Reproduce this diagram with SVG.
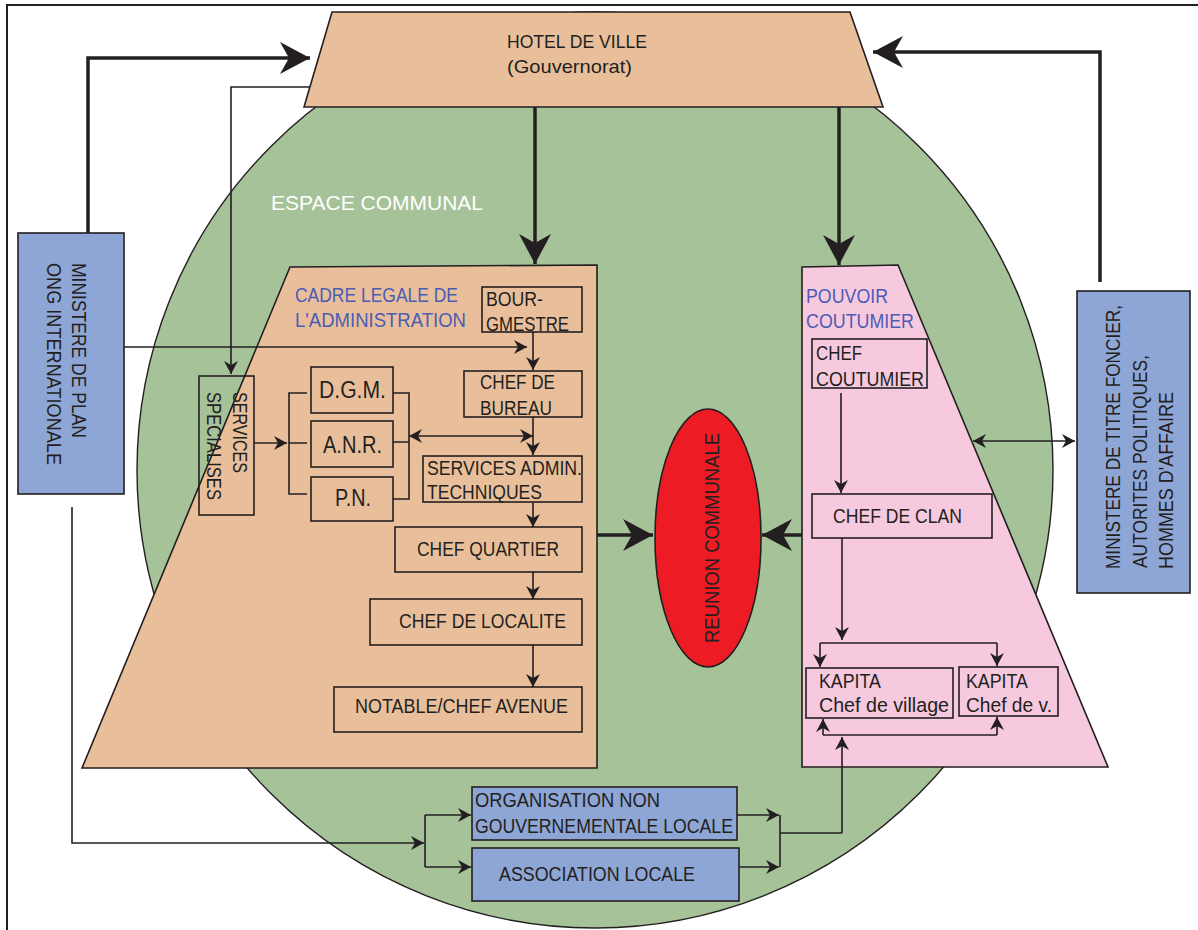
<svg xmlns="http://www.w3.org/2000/svg" width="1198" height="930" viewBox="0 0 1198 930">
<style>
text{font-family:"Liberation Sans",Arial,sans-serif;font-size:20px;fill:#231f20;}
.ttl{fill:#4c5cb5;}
.box{fill:none;stroke:#231f20;stroke-width:1.6;}
.bbox{fill:#8ea6d6;stroke:#231f20;stroke-width:1.6;}
.c{fill:none;stroke:#231f20;stroke-width:1.6;}
.a{marker-end:url(#ah);}
.da{marker-start:url(#ah);marker-end:url(#ah);}
.k{fill:none;stroke:#231f20;stroke-width:3.5;marker-end:url(#ahb);}
</style>
<defs>
<marker id="ah" viewBox="-15 -9 17 18" markerWidth="17" markerHeight="18" refX="0" refY="0" orient="auto-start-reverse" markerUnits="userSpaceOnUse">
<path d="M0,0 L-13,-7 L-9,0 L-13,7 Z" fill="#231f20"/>
</marker>
<marker id="ahb" viewBox="-33 -18 35 36" markerWidth="35" markerHeight="36" refX="0" refY="0" orient="auto" markerUnits="userSpaceOnUse">
<path d="M0,0 L-30,-16 L-21,0 L-30,16 Z" fill="#231f20"/>
</marker>
</defs>
<rect width="1198" height="930" fill="#ffffff"/>
<path d="M7,930 V5 H1198" fill="none" stroke="#231f20" stroke-width="2"/>

<g id="espace-communal">
<circle cx="595" cy="470" r="458" fill="#a6c298" stroke="#231f20" stroke-width="1.4"/>
<text x="271" y="210" textLength="212" lengthAdjust="spacingAndGlyphs" style="fill:#ffffff;font-size:21px">ESPACE COMMUNAL</text>
</g>

<g id="hotel-de-ville">
<polygon points="332,12 850,12 883,107 304,107" fill="#e9bf9b" stroke="#231f20" stroke-width="1.6"/>
<text x="507" y="48" textLength="140" lengthAdjust="spacingAndGlyphs" style="font-size:18.5px">HOTEL DE VILLE</text>
<text x="507" y="73" textLength="125" lengthAdjust="spacingAndGlyphs" style="font-size:18.5px">(Gouvernorat)</text>
</g>

<g id="cadre-legale">
<polygon points="290,267 597,265 597,768 82,768" fill="#e9bf9b" stroke="#231f20" stroke-width="1.6"/>
<text class="ttl" x="295" y="302" textLength="163" lengthAdjust="spacingAndGlyphs">CADRE LEGALE DE</text>
<text class="ttl" x="295" y="327" textLength="171" lengthAdjust="spacingAndGlyphs">L'ADMINISTRATION</text>
</g>

<g id="pouvoir-coutumier">
<polygon points="802,267 898,265 1108,767 802,767" fill="#f6c9de" stroke="#231f20" stroke-width="1.6"/>
<text class="ttl" x="806" y="303" textLength="82" lengthAdjust="spacingAndGlyphs">POUVOIR</text>
<text class="ttl" x="806" y="328" textLength="108" lengthAdjust="spacingAndGlyphs">COUTUMIER</text>
</g>

<g id="connectors">
<path class="k" d="M88,233 V58 H310"/>
<path class="k" d="M1100,282 V52 H873"/>
<path class="k" d="M535,107 V264"/>
<path class="k" d="M839,107 V265"/>
<path class="k" d="M597,535 H653"/>
<path class="k" d="M802,535 H762"/>
<path class="c a" d="M310,87 H231 V374"/>
<path class="c a" d="M124,347 H527"/>
<path class="c a" d="M533,332 V370"/>
<path class="c a" d="M533,417 V455"/>
<path class="c a" d="M533,502 V527"/>
<path class="c a" d="M533,572 V599"/>
<path class="c a" d="M533,645 V687"/>
<path class="c da" d="M409,436 H533"/>
<path class="c a" d="M254,443 H287"/>
<path class="c" d="M307,393 H289 V494 H307 M289,443 H307"/>
<path class="c" d="M393,393 H409 V499 H393 M393,442 H409"/>
<path class="c a" d="M841,393 V493"/>
<path class="c a" d="M842,538 V640"/>
<path class="c" d="M820,643 H997"/>
<path class="c a" d="M820,643 V667"/>
<path class="c a" d="M997,643 V666"/>
<path class="c" d="M823,735 H997"/>
<path class="c a" d="M823,735 V719"/>
<path class="c a" d="M997,735 V717"/>
<path class="c a" d="M842,833 V737"/>
<path class="c" d="M780,815 V867 M780,833 H842"/>
<path class="c a" d="M737,815 H779"/>
<path class="c a" d="M736,867 H779"/>
<path class="c a" d="M72,507 V843 H424"/>
<path class="c" d="M425,815 V867"/>
<path class="c a" d="M425,815 H471"/>
<path class="c a" d="M425,867 H471"/>
<path class="c da" d="M973,441 H1075"/>
</g>

<g id="ministere-plan">
<rect class="bbox" x="18" y="233" width="106" height="261"/>
<text transform="translate(72,263) rotate(90)" textLength="175" lengthAdjust="spacingAndGlyphs">MINISTERE DE PLAN</text>
<text transform="translate(47,263) rotate(90)" textLength="202" lengthAdjust="spacingAndGlyphs">ONG INTERNATIONALE</text>
</g>

<g id="ministere-titre-foncier">
<rect class="bbox" x="1077" y="291" width="113" height="302"/>
<text transform="translate(1120,569) rotate(-90)" textLength="264" lengthAdjust="spacingAndGlyphs">MINISTERE DE TITRE FONCIER,</text>
<text transform="translate(1147,568) rotate(-90)" textLength="213" lengthAdjust="spacingAndGlyphs">AUTORITES POLITIQUES,</text>
<text transform="translate(1173,569) rotate(-90)" textLength="177" lengthAdjust="spacingAndGlyphs">HOMMES D'AFFAIRE</text>
</g>

<g id="services-specialises">
<rect class="box" x="199" y="376" width="55" height="139"/>
<text transform="translate(233,392) rotate(90)" textLength="81" lengthAdjust="spacingAndGlyphs">SERVICES</text>
<text transform="translate(207,392) rotate(90)" textLength="108" lengthAdjust="spacingAndGlyphs">SPECIALISES</text>
</g>

<g id="dgm">
<rect class="box" x="311" y="367" width="82" height="46"/>
<text x="319" y="398" textLength="67" lengthAdjust="spacingAndGlyphs" style="font-size:23px">D.G.M.</text>
</g>
<g id="anr">
<rect class="box" x="311" y="421" width="82" height="46"/>
<text x="323" y="453" textLength="59" lengthAdjust="spacingAndGlyphs" style="font-size:23px">A.N.R.</text>
</g>
<g id="pn">
<rect class="box" x="311" y="477" width="82" height="44"/>
<text x="335" y="506" textLength="36" lengthAdjust="spacingAndGlyphs" style="font-size:23px">P.N.</text>
</g>

<g id="bourgmestre">
<rect class="box" x="482" y="287" width="100" height="45"/>
<text x="486" y="306" textLength="57" lengthAdjust="spacingAndGlyphs">BOUR-</text>
<text x="486" y="331" textLength="83" lengthAdjust="spacingAndGlyphs">GMESTRE</text>
</g>

<g id="chef-de-bureau">
<rect class="box" x="464" y="371" width="118" height="46"/>
<text x="480" y="389" textLength="75" lengthAdjust="spacingAndGlyphs">CHEF DE</text>
<text x="480" y="415" textLength="72" lengthAdjust="spacingAndGlyphs">BUREAU</text>
</g>

<g id="services-admin">
<rect class="box" x="423" y="456" width="159" height="46"/>
<text x="427" y="475" textLength="155" lengthAdjust="spacingAndGlyphs">SERVICES ADMIN.</text>
<text x="427" y="499" textLength="115" lengthAdjust="spacingAndGlyphs">TECHNIQUES</text>
</g>

<g id="chef-quartier">
<rect class="box" x="395" y="527" width="187" height="45"/>
<text x="417" y="556" textLength="142" lengthAdjust="spacingAndGlyphs">CHEF QUARTIER</text>
</g>

<g id="chef-localite">
<rect class="box" x="370" y="599" width="212" height="46"/>
<text x="399" y="628" textLength="167" lengthAdjust="spacingAndGlyphs">CHEF DE LOCALITE</text>
</g>

<g id="notable">
<rect class="box" x="334" y="687" width="248" height="45"/>
<text x="355" y="713" textLength="213" lengthAdjust="spacingAndGlyphs">NOTABLE/CHEF AVENUE</text>
</g>

<g id="reunion-communale">
<ellipse cx="708" cy="538" rx="53" ry="129" fill="#ed1c24" stroke="#231f20" stroke-width="1.6"/>
<text transform="translate(719,643) rotate(-90)" textLength="210" lengthAdjust="spacingAndGlyphs">REUNION COMMUNALE</text>
</g>

<g id="chef-coutumier">
<rect class="box" x="812" y="339" width="115" height="49"/>
<text x="816" y="360" textLength="46" lengthAdjust="spacingAndGlyphs">CHEF</text>
<text x="816" y="386" textLength="108" lengthAdjust="spacingAndGlyphs">COUTUMIER</text>
</g>

<g id="chef-de-clan">
<rect class="box" x="812" y="494" width="180" height="44"/>
<text x="833" y="523" textLength="129" lengthAdjust="spacingAndGlyphs">CHEF DE CLAN</text>
</g>

<g id="kapita-1">
<rect class="box" x="806" y="668" width="147" height="50"/>
<text x="819" y="688" textLength="62" lengthAdjust="spacingAndGlyphs">KAPITA</text>
<text x="819" y="712" textLength="130" lengthAdjust="spacingAndGlyphs">Chef de village</text>
</g>

<g id="kapita-2">
<rect class="box" x="959" y="667" width="99" height="49"/>
<text x="966" y="688" textLength="62" lengthAdjust="spacingAndGlyphs">KAPITA</text>
<text x="966" y="712" textLength="86" lengthAdjust="spacingAndGlyphs">Chef de v.</text>
</g>

<g id="ong-locale">
<rect class="bbox" x="472" y="787" width="265" height="53"/>
<text x="475" y="807" textLength="185" lengthAdjust="spacingAndGlyphs">ORGANISATION NON</text>
<text x="475" y="833" textLength="258" lengthAdjust="spacingAndGlyphs">GOUVERNEMENTALE LOCALE</text>
</g>

<g id="association-locale">
<rect class="bbox" x="472" y="848" width="267" height="53"/>
<text x="499" y="881" textLength="196" lengthAdjust="spacingAndGlyphs">ASSOCIATION LOCALE</text>
</g>
</svg>
